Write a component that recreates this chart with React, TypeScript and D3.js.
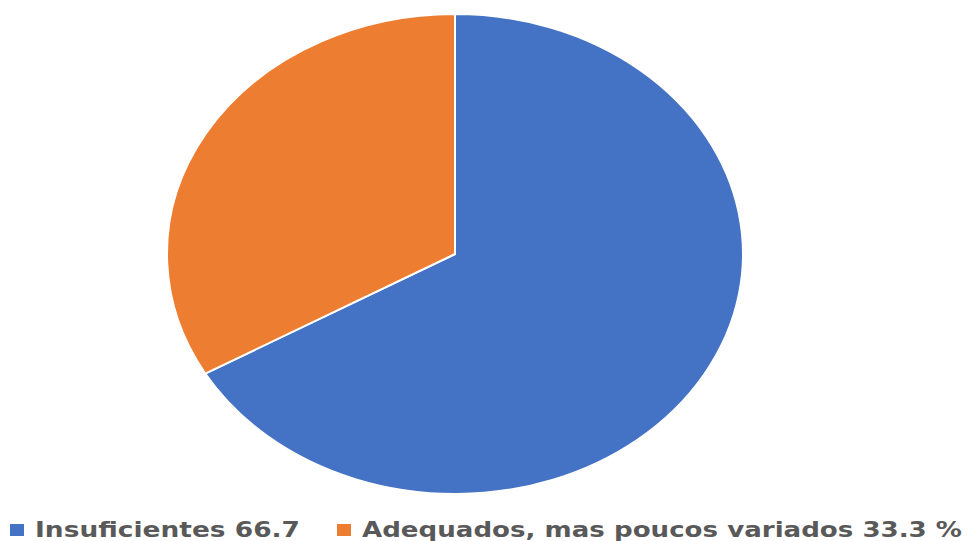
import React, { useRef, useEffect } from "react";
import * as d3 from "d3";

const categories = ["Insuficientes", "Adequados, mas poucos variados"];
const values = [66.7, 33.3];
const legendLabels = ["Insuficientes 66.7", "Adequados, mas poucos variados 33.3 %"];
const colors = ["#4472C4", "#ED7D31"];

export default function App() {
  const svgRef = useRef<SVGSVGElement>(null);

  useEffect(() => {
    const svgEl = svgRef.current;
    if (!svgEl) return;
    const width = 971;
    const height = 541;

    d3.select(svgEl).selectAll("*").remove();
    const svg = d3.select(svgEl).attr("width", width).attr("height", height);

    // pie is drawn as a circle then squashed into an ellipse
    const cx = 455, cy = 254, rx = 288, ry = 240;
    const data = categories.map((c, i) => ({ name: c, value: values[i] }));
    const pie = d3.pie<{ name: string; value: number }>().value(d => d.value).sort(null);
    const arc = d3.arc<d3.PieArcDatum<{ name: string; value: number }>>().innerRadius(0).outerRadius(rx);

    const g = svg.append("g")
      .attr("transform", `translate(${cx},${cy}) scale(1,${ry / rx})`);

    g.selectAll("path")
      .data(pie(data))
      .enter().append("path")
      .attr("d", arc)
      .attr("fill", (d, i) => colors[i])
      .attr("stroke", "#fff")
      .attr("stroke-width", 2)
      .attr("vector-effect", "non-scaling-stroke");

    // legend
    const legendItems = [
      { sq: 10, tx: 35, tw: 265 },
      { sq: 337, tx: 362, tw: 600 },
    ];
    const lg = svg.append("g");
    legendItems.forEach((it, i) => {
      lg.append("rect")
        .attr("x", it.sq).attr("y", 524)
        .attr("width", 14).attr("height", 12)
        .attr("fill", colors[i]);
      lg.append("text")
        .attr("x", it.tx).attr("y", 537)
        .attr("font-family", "DejaVu Sans, Arial, sans-serif")
        .attr("font-weight", "bold")
        .attr("font-size", 22)
        .attr("fill", "#595959")
        .attr("textLength", it.tw)
        .attr("lengthAdjust", "spacingAndGlyphs")
        .text(legendLabels[i]);
    });
  }, []);

  return (
    <svg
      ref={svgRef}
      style={{ position: "absolute", left: 0, top: 0, background: "#fff" }}
    />
  );
}
